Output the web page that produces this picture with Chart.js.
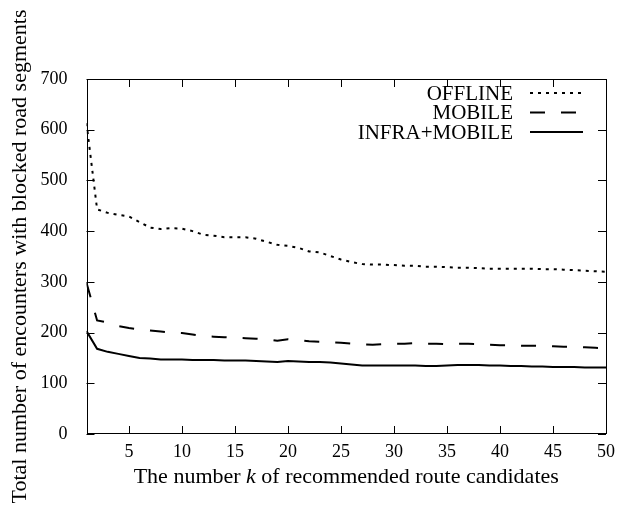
<!DOCTYPE html>
<html>
<head>
<meta charset="utf-8">
<script src="https://cdn.jsdelivr.net/npm/chart.js@4/dist/chart.umd.min.js"></script>
<style>
  html, body { margin: 0; padding: 0; background: #fff; }
  #wrap { width: 618px; height: 509px; }
</style>
</head>
<body>
<div id="wrap"><canvas id="myChart" width="618" height="509"></canvas></div>
<script>
// k = number of recommended route candidates
const kValues = [1, 2, 3, 4, 5, 6, 7, 8, 9, 10, 11, 12, 13, 14, 15, 16, 17, 18, 19, 20,
  21, 22, 23, 24, 25, 26, 27, 28, 29, 30, 31, 32, 33, 34, 35, 36, 37, 38, 39, 40,
  41, 42, 43, 44, 45, 46, 47, 48, 49, 50];

const offline = [613, 443, 436, 432, 429, 418, 407, 404, 406, 405, 400, 393, 391, 388, 388, 388, 385, 379, 373, 371,
  367, 360, 358, 351, 344, 339, 335, 334, 334, 333, 332, 332, 330, 330, 329, 328, 328, 327, 326, 326,
  326, 326, 326, 325, 325, 324, 323, 322, 321, 320];

const mobile = [298, 224, 220, 213, 209, 206, 204, 202, 200, 199, 196, 193, 192, 191, 190, 189, 188, 187, 184, 187,
  185, 183, 182, 181, 180, 178, 177, 176, 177, 178, 178, 179, 178, 178, 177, 178, 178, 177, 176, 175,
  175, 174, 174, 174, 173, 172, 172, 171, 170, 169];

const infraMobile = [203, 168, 162, 158, 154, 150, 149, 147, 147, 147, 146, 146, 146, 145, 145, 145, 144, 143, 142, 144,
  143, 142, 142, 141, 139, 137, 135, 135, 135, 135, 135, 135, 134, 134, 135, 136, 136, 136, 135, 135,
  134, 134, 133, 133, 132, 132, 132, 131, 131, 131];

const xTicks = [5, 10, 15, 20, 25, 30, 35, 40, 45, 50];
const yTicks = [0, 100, 200, 300, 400, 500, 600, 700];

// x title pieces, the middle one is italic
const xTitle = [['The number ', false], ['k', true], [' of recommended route candidates', false]];
const yTitle = 'Total number of encounters with blocked road segments';

const FONT = "'Liberation Serif', 'Times New Roman', serif";

function toPoints(arr) {
  return arr.map((v, i) => ({ x: kValues[i], y: v }));
}

// gnuplot-like frame: box, inward ticks on all four sides, legend, axis titles
const frame = {
  id: 'frame',
  afterDatasetsDraw(chart) {
    const { ctx, chartArea: a, scales: { x, y } } = chart;
    ctx.save();
    ctx.strokeStyle = '#000';
    ctx.lineWidth = 1;
    ctx.strokeRect(Math.round(a.left) + 0.5, Math.round(a.top) + 0.5,
      Math.round(a.width) - 1, Math.round(a.height) - 1);

    ctx.beginPath();
    xTicks.forEach(v => {
      const px = Math.round(x.getPixelForValue(v)) + 0.5;
      ctx.moveTo(px, a.bottom); ctx.lineTo(px, a.bottom - 8);
      ctx.moveTo(px, a.top); ctx.lineTo(px, a.top + 8);
    });
    yTicks.forEach(v => {
      const py = Math.round(y.getPixelForValue(v)) + 0.5;
      ctx.moveTo(a.left, py); ctx.lineTo(a.left + 8, py);
      ctx.moveTo(a.right, py); ctx.lineTo(a.right - 8, py);
    });
    ctx.stroke();

    // legend
    ctx.font = '21px ' + FONT;
    ctx.fillStyle = '#000';
    ctx.textAlign = 'right';
    ctx.textBaseline = 'middle';
    chart.data.datasets.forEach((ds, i) => {
      const ry = a.top + 14 + i * 19.5;
      ctx.fillText(ds.label, a.right - 93, ry + 1);
      ctx.beginPath();
      ctx.lineWidth = ds.borderWidth;
      ctx.setLineDash(ds.borderDash || []);
      ctx.moveTo(a.right - 76, ry);
      ctx.lineTo(a.right - 23, ry);
      ctx.stroke();
    });
    ctx.setLineDash([]);

    // x title
    ctx.textAlign = 'left';
    ctx.textBaseline = 'alphabetic';
    let total = 0;
    xTitle.forEach(([t, it]) => {
      ctx.font = (it ? 'italic ' : '') + '22px ' + FONT;
      total += ctx.measureText(t).width;
    });
    let tx = (a.left + a.right) / 2 - total / 2;
    xTitle.forEach(([t, it]) => {
      ctx.font = (it ? 'italic ' : '') + '22px ' + FONT;
      ctx.fillText(t, tx, 483);
      tx += ctx.measureText(t).width;
    });

    // y title
    ctx.translate(20, (a.top + a.bottom) / 2);
    ctx.rotate(-Math.PI / 2);
    ctx.font = '22px ' + FONT;
    ctx.textAlign = 'center';
    ctx.textBaseline = 'middle';
    ctx.fillText(yTitle, 0, 0);
    ctx.restore();
  }
};

const cxt = document.getElementById('myChart').getContext('2d');
const myChart = new Chart(cxt, {
  type: 'line',
  data: {
    datasets: [
      { label: 'OFFLINE', data: toPoints(offline), borderColor: '#000', borderWidth: 2, borderDash: [3, 5] },
      { label: 'MOBILE', data: toPoints(mobile), borderColor: '#000', borderWidth: 2, borderDash: [15, 16] },
      { label: 'INFRA+MOBILE', data: toPoints(infraMobile), borderColor: '#000', borderWidth: 2 }
    ]
  },
  options: {
    responsive: false,
    animation: false,
    layout: { padding: { top: 79, right: 12, left: 0, bottom: 0 } },
    elements: { point: { radius: 0 }, line: { tension: 0, fill: false } },
    plugins: { legend: { display: false }, tooltip: { enabled: false } },
    scales: {
      x: {
        type: 'linear',
        min: 1,
        max: 50,
        afterBuildTicks: s => { s.ticks = xTicks.map(v => ({ value: v })); },
        afterFit: s => { s.height = 75; },
        grid: { display: false },
        border: { display: false },
        ticks: { color: '#000', font: { family: FONT, size: 18 }, padding: -1, maxRotation: 0 }
      },
      y: {
        min: 0,
        max: 700,
        afterBuildTicks: s => { s.ticks = yTicks.map(v => ({ value: v })); },
        afterFit: s => { s.width = 86.5; },
        grid: { display: false },
        border: { display: false },
        ticks: { color: '#000', font: { family: FONT, size: 18 }, padding: 11 }
      }
    }
  },
  plugins: [frame]
});
</script>
</body>
</html>
